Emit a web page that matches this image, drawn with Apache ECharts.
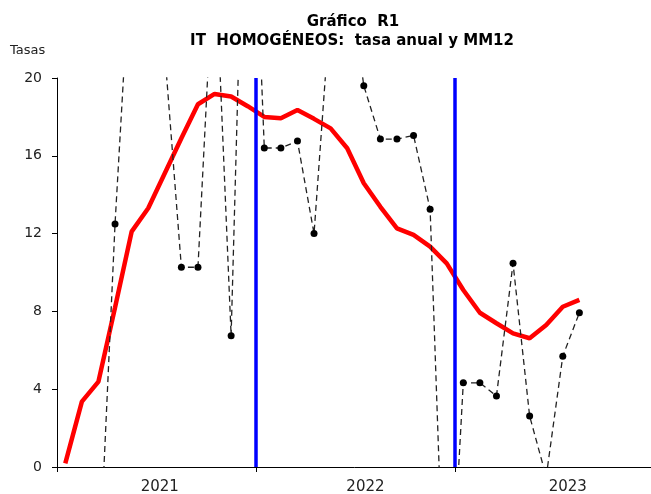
<!DOCTYPE html>
<html><head><meta charset="utf-8">
<script src="https://cdn.jsdelivr.net/npm/echarts@6/dist/echarts.min.js"></script>
<style>html,body{margin:0;padding:0;background:#fff}#c{width:651px;height:494px}</style>
</head><body><div id="c"></div>
<script>
const months = ['2021-01','2021-02','2021-03','2021-04','2021-05','2021-06','2021-07','2021-08','2021-09','2021-10','2021-11','2021-12',
                '2022-01','2022-02','2022-03','2022-04','2022-05','2022-06','2022-07','2022-08','2022-09','2022-10','2022-11','2022-12',
                '2023-01','2023-02','2023-03','2023-04','2023-05','2023-06','2023-07','2023-08'];
const years = ['2021','2022','2023'];
const tasaAnual = [-9, -8, -6.2, 12.5, 27.3, 25, 21.3, 10.27, 10.27, 27, 6.75, 38,
                   16.4, 16.4, 16.76, 12.0, 23.8, 26, 19.6, 16.86, 16.86, 17.05, 13.25, -11.2,
                   4.33, 4.33, 3.65, 10.47, 2.62, -0.5, 5.7, 7.93];
const mm12 = [0.19, 3.36, 4.39, 8.2, 12.1, 13.3, 15.1, 16.9, 18.65, 19.18, 19.05, 18.55,
              18.0, 17.93, 18.35, 17.9, 17.41, 16.39, 14.59, 13.38, 12.27, 11.93, 11.33, 10.47,
              9.1, 7.93, 7.39, 6.87, 6.62, 7.3, 8.24, 8.59];
const yearBreaks = [12, 24];
const yearTicks = [0, 12, 24, 36];
const yearLabelPos = [6.2, 18.6, 30.8];

const xOf = i => i + 0.5;
const tasaData = tasaAnual.map((v, i) => [xOf(i), v]);
const mmData = mm12.map((v, i) => [xOf(i), v]);

const chart = echarts.init(document.getElementById('c'), null, {renderer: 'canvas'});
const FONT = '"DejaVu Sans", Verdana, sans-serif';
chart.setOption({
  animation: false,
  backgroundColor: '#fff',
  grid: {left: 57, right: -3, top: 78, bottom: 27, containLabel: false, outerBoundsMode: 'none'},
  graphic: [
    {type: 'text', x: 353, y: 22, style: {text: 'Gráfico  R1', font: 'bold 15px ' + FONT, fill: '#000', align: 'center', verticalAlign: 'middle', textAlign: 'center', textVerticalAlign: 'middle'}},
    {type: 'text', x: 352, y: 41, style: {text: 'IT  HOMOGÉNEOS:  tasa anual y MM12', font: 'bold 15px ' + FONT, fill: '#000', align: 'center', verticalAlign: 'middle', textAlign: 'center', textVerticalAlign: 'middle'}},
    {type: 'text', x: 10, y: 51, style: {text: 'Tasas', font: '13px ' + FONT, fill: '#222', align: 'left', verticalAlign: 'middle', textAlign: 'left', textVerticalAlign: 'middle'}}
  ],
  xAxis: {
    type: 'value', min: 0, max: 36,
    splitLine: {show: false},
    axisLine: {show: true, lineStyle: {color: '#000', width: 1}},
    axisTick: {show: true, inside: false, length: 5, customValues: yearTicks, lineStyle: {color: '#000'}},
    axisLabel: {show: true, customValues: yearLabelPos, margin: 13, fontFamily: FONT, fontSize: 15, color: '#222',
      formatter: v => years[Math.floor(v / 12)]}
  },
  yAxis: {
    type: 'value', min: 0, max: 20, interval: 4,
    splitLine: {show: false},
    axisLine: {show: true, lineStyle: {color: '#000', width: 1}},
    axisTick: {show: true, inside: false, length: 5, lineStyle: {color: '#000'}},
    axisLabel: {margin: 15, fontFamily: FONT, fontSize: 14, color: '#222'}
  },
  series: [
    {
      name: 'MM12', type: 'line', data: mmData, showSymbol: false, symbol: 'none',
      lineStyle: {color: '#ff0000', width: 4.5}, z: 3, clip: true,
      markLine: {
        silent: true, symbol: 'none', label: {show: false},
        lineStyle: {color: '#0000ff', width: 3.5, type: 'solid'},
        data: yearBreaks.map(v => ({xAxis: v})), z: 4
      }
    },
    {
      name: 'Tasa anual', type: 'line', data: tasaData, symbol: 'circle', symbolSize: 7, showSymbol: true,
      itemStyle: {color: '#000'}, lineStyle: {color: '#222', width: 1.3, type: [6, 4]}, z: 5, clip: true
    }
  ]
});
</script></body></html>
